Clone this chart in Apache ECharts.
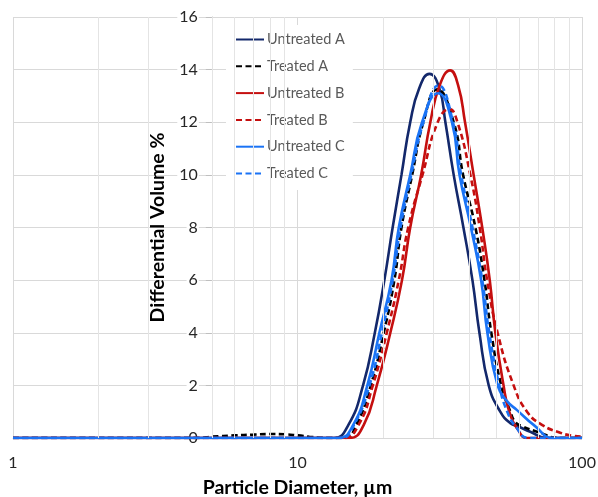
<!DOCTYPE html>
<html>
<head>
<meta charset="utf-8">
<script src="https://cdn.jsdelivr.net/npm/echarts@6.0.0/dist/echarts.min.js"></script>
<style>
  html, body { margin: 0; padding: 0; background: #ffffff; }
  #chart { width: 598px; height: 497px; }
</style>
</head>
<body>
<div id="chart"></div>
<script>
// Particle size distributions: [diameter in µm, differential volume %]
const untreatedA = [[1,0],[5,0],[10,0],[13.4,0],[15.1,0.5],[17.0,2],[18.7,4],[20.2,6],[21.6,8],[23.2,10],[24.9,12],[26.8,13.3],[29.1,13.84],[31.5,13.3],[33.1,12],[35.4,10],[38.3,8],[41.2,6],[43.6,4],[47.0,2],[51.6,1],[56.0,0.56],[59.9,0.43],[65.8,0.24],[75.3,0],[100,0]];
const treatedA = [[1,0],[4.5,0],[5,0.05],[6,0.1],[7,0.13],[8,0.15],[9,0.14],[10,0.1],[11,0.05],[12,0.01],[13,0],[14.7,0],[16.1,0.5],[18.1,2],[20.1,4],[21.9,6],[23.2,8],[25.3,10],[27.7,12],[31.0,13.25],[35.4,12],[38.2,10],[42.2,8],[45.4,6],[48.0,4],[52.0,2],[56.0,1],[58.3,0.6],[61.5,0.45],[69.5,0.24],[83.9,0],[100,0]];
const untreatedB = [[1,0],[10,0],[15.2,0],[17.1,0.5],[19.0,2],[21.2,4],[23.3,6],[24.9,8],[27.2,10],[29.3,12],[31.6,13.4],[34.4,13.97],[36.7,13.4],[38.8,12],[41.6,10],[44.6,8],[47.4,6],[49.6,4],[53.0,2],[55.5,1],[59.7,0.3],[64.1,0],[100,0]];
const treatedB = [[1,0],[10,0],[14.5,0],[16.4,0.5],[18.4,2],[20.6,4],[22.7,6],[24.5,8],[27.5,10],[31.1,12],[34.2,12.5],[36.5,12],[40.5,10],[43.7,8],[46.4,6],[50.5,4],[57.5,2],[64.1,1],[72.3,0.5],[83.9,0.2],[91.0,0.1],[100,0.05]];
const untreatedC = [[1,0],[10,0],[13.9,0],[15.7,0.5],[17.6,2],[19.4,4],[21.4,6],[22.7,8],[24.9,10],[27.4,12],[31.2,13.1],[34.9,12],[37.1,10],[40.7,8],[44.2,6],[46.5,4],[50.5,2],[54.5,1.4],[59.1,1.06],[67.6,0.5],[79.5,0],[100,0]];
const treatedC = [[1,0],[10,0],[14.2,0],[15.8,0.5],[17.9,2],[19.8,4],[21.6,6],[23.0,8],[25.1,10],[27.7,12],[31.3,13.4],[35.2,12],[37.6,10],[41.2,8],[44.6,6],[47.2,4],[51.2,2],[54.6,1],[58.8,0.4],[64.8,0],[100,0]];

const seriesNames = ['Untreated A','Treated A','Untreated B','Treated B','Untreated C','Treated C'];
const seriesData = [untreatedA, treatedA, untreatedB, treatedB, untreatedC, treatedC];
const seriesColors = ['#13286b','#000000','#c50f0f','#c50f0f','#1a73f5','#1a73f5'];
const seriesDashed = [false, true, false, true, false, true];

// Minor vertical gridlines on the log diameter axis
const minorGrid = [2,3,5,6,7,8,9,20,30,40,50,60,70,80,90];
const xMin = 1, xMax = 100, yMin = 0, yMax = 16, yStep = 2;
const yCrossAt = 5;

const FONT = 'Lato, "Open Sans", sans-serif';
const gridBox = { left: 13, right: 16, top: 17, bottom: 59, outerBoundsMode: 'none', containLabel: false };

const chart = echarts.init(document.getElementById('chart'), null, { renderer: 'canvas' });

const lineSeries = seriesNames.map((name, i) => ({
  name: name,
  type: 'line',
  data: seriesData[i],
  showSymbol: false,
  symbol: 'none',
  smooth: 0.5,
  z: 3,
  color: seriesColors[i],
  lineStyle: {
    color: seriesColors[i],
    width: 2.6,
    type: seriesDashed[i] ? [6, 3.5] : 'solid'
  },
  emphasis: { disabled: true }
}));

const gridSeries = {
  name: 'minor-grid',
  type: 'line',
  data: [],
  z: 1,
  silent: true,
  markLine: {
    silent: true,
    symbol: 'none',
    animation: false,
    label: { show: false },
    lineStyle: { color: '#e4e4e4', type: 'solid', width: 1 },
    data: minorGrid.map(v => ({ xAxis: v }))
  }
};

const option = {
  animation: false,
  backgroundColor: '#ffffff',
  grid: gridBox,
  legend: {
    data: seriesNames,
    orient: 'vertical',
    left: 226,
    top: 25,
    padding: [6, 8, 8, 9],
    backgroundColor: '#ffffff',
    itemWidth: 28,
    itemHeight: 12,
    itemGap: 9.8,
    selectedMode: false,
    itemStyle: { opacity: 0 },
    textStyle: { fontFamily: FONT, fontSize: 14.5, color: '#595959', lineHeight: 17, padding: [0, 0, 0, -2] }
  },
  xAxis: {
    type: 'log',
    logBase: 10,
    min: xMin,
    max: xMax,
    name: 'Particle Diameter, µm',
    nameLocation: 'middle',
    nameGap: 40,
    nameMoveOverlap: false,
    nameTextStyle: { fontFamily: FONT, fontSize: 19.5, fontWeight: 'bold', color: '#000000' },
    axisLine: { show: true, lineStyle: { color: '#d9d9d9', width: 1 } },
    axisTick: { show: false },
    axisLabel: { fontFamily: FONT, fontSize: 16, color: '#262626', margin: 17 },
    splitLine: { show: true, lineStyle: { color: '#d9d9d9', width: 1 } },
    minorTick: { show: false },
    minorSplitLine: { show: false }
  },
  yAxis: {
    type: 'value',
    min: yMin,
    max: yMax,
    interval: yStep,
    position: 'left',
    offset: 0,
    name: 'Differential Volume %',
    nameLocation: 'middle',
    nameGap: 44,
    nameMoveOverlap: false,
    nameTextStyle: { fontFamily: FONT, fontSize: 19.5, fontWeight: 'bold', color: '#000000' },
    axisLine: { show: true, lineStyle: { color: '#bfbfbf', width: 1 } },
    axisTick: { show: true, inside: false, length: 6, lineStyle: { color: '#bfbfbf' } },
    axisLabel: { fontFamily: FONT, fontSize: 16, color: '#262626', margin: 13, backgroundColor: '#ffffff', padding: [0, 1, 0, 2] },
    splitLine: { show: true, lineStyle: { color: '#d9d9d9', width: 1 } }
  },
  series: [gridSeries].concat(lineSeries)
};

chart.setOption(option);

// Vertical axis crosses the diameter axis at yCrossAt
const crossPx = chart.convertToPixel({ xAxisIndex: 0 }, yCrossAt);
const leftPx = chart.convertToPixel({ xAxisIndex: 0 }, xMin);
chart.setOption({ yAxis: { offset: -(crossPx - leftPx) } });
</script>
</body>
</html>
